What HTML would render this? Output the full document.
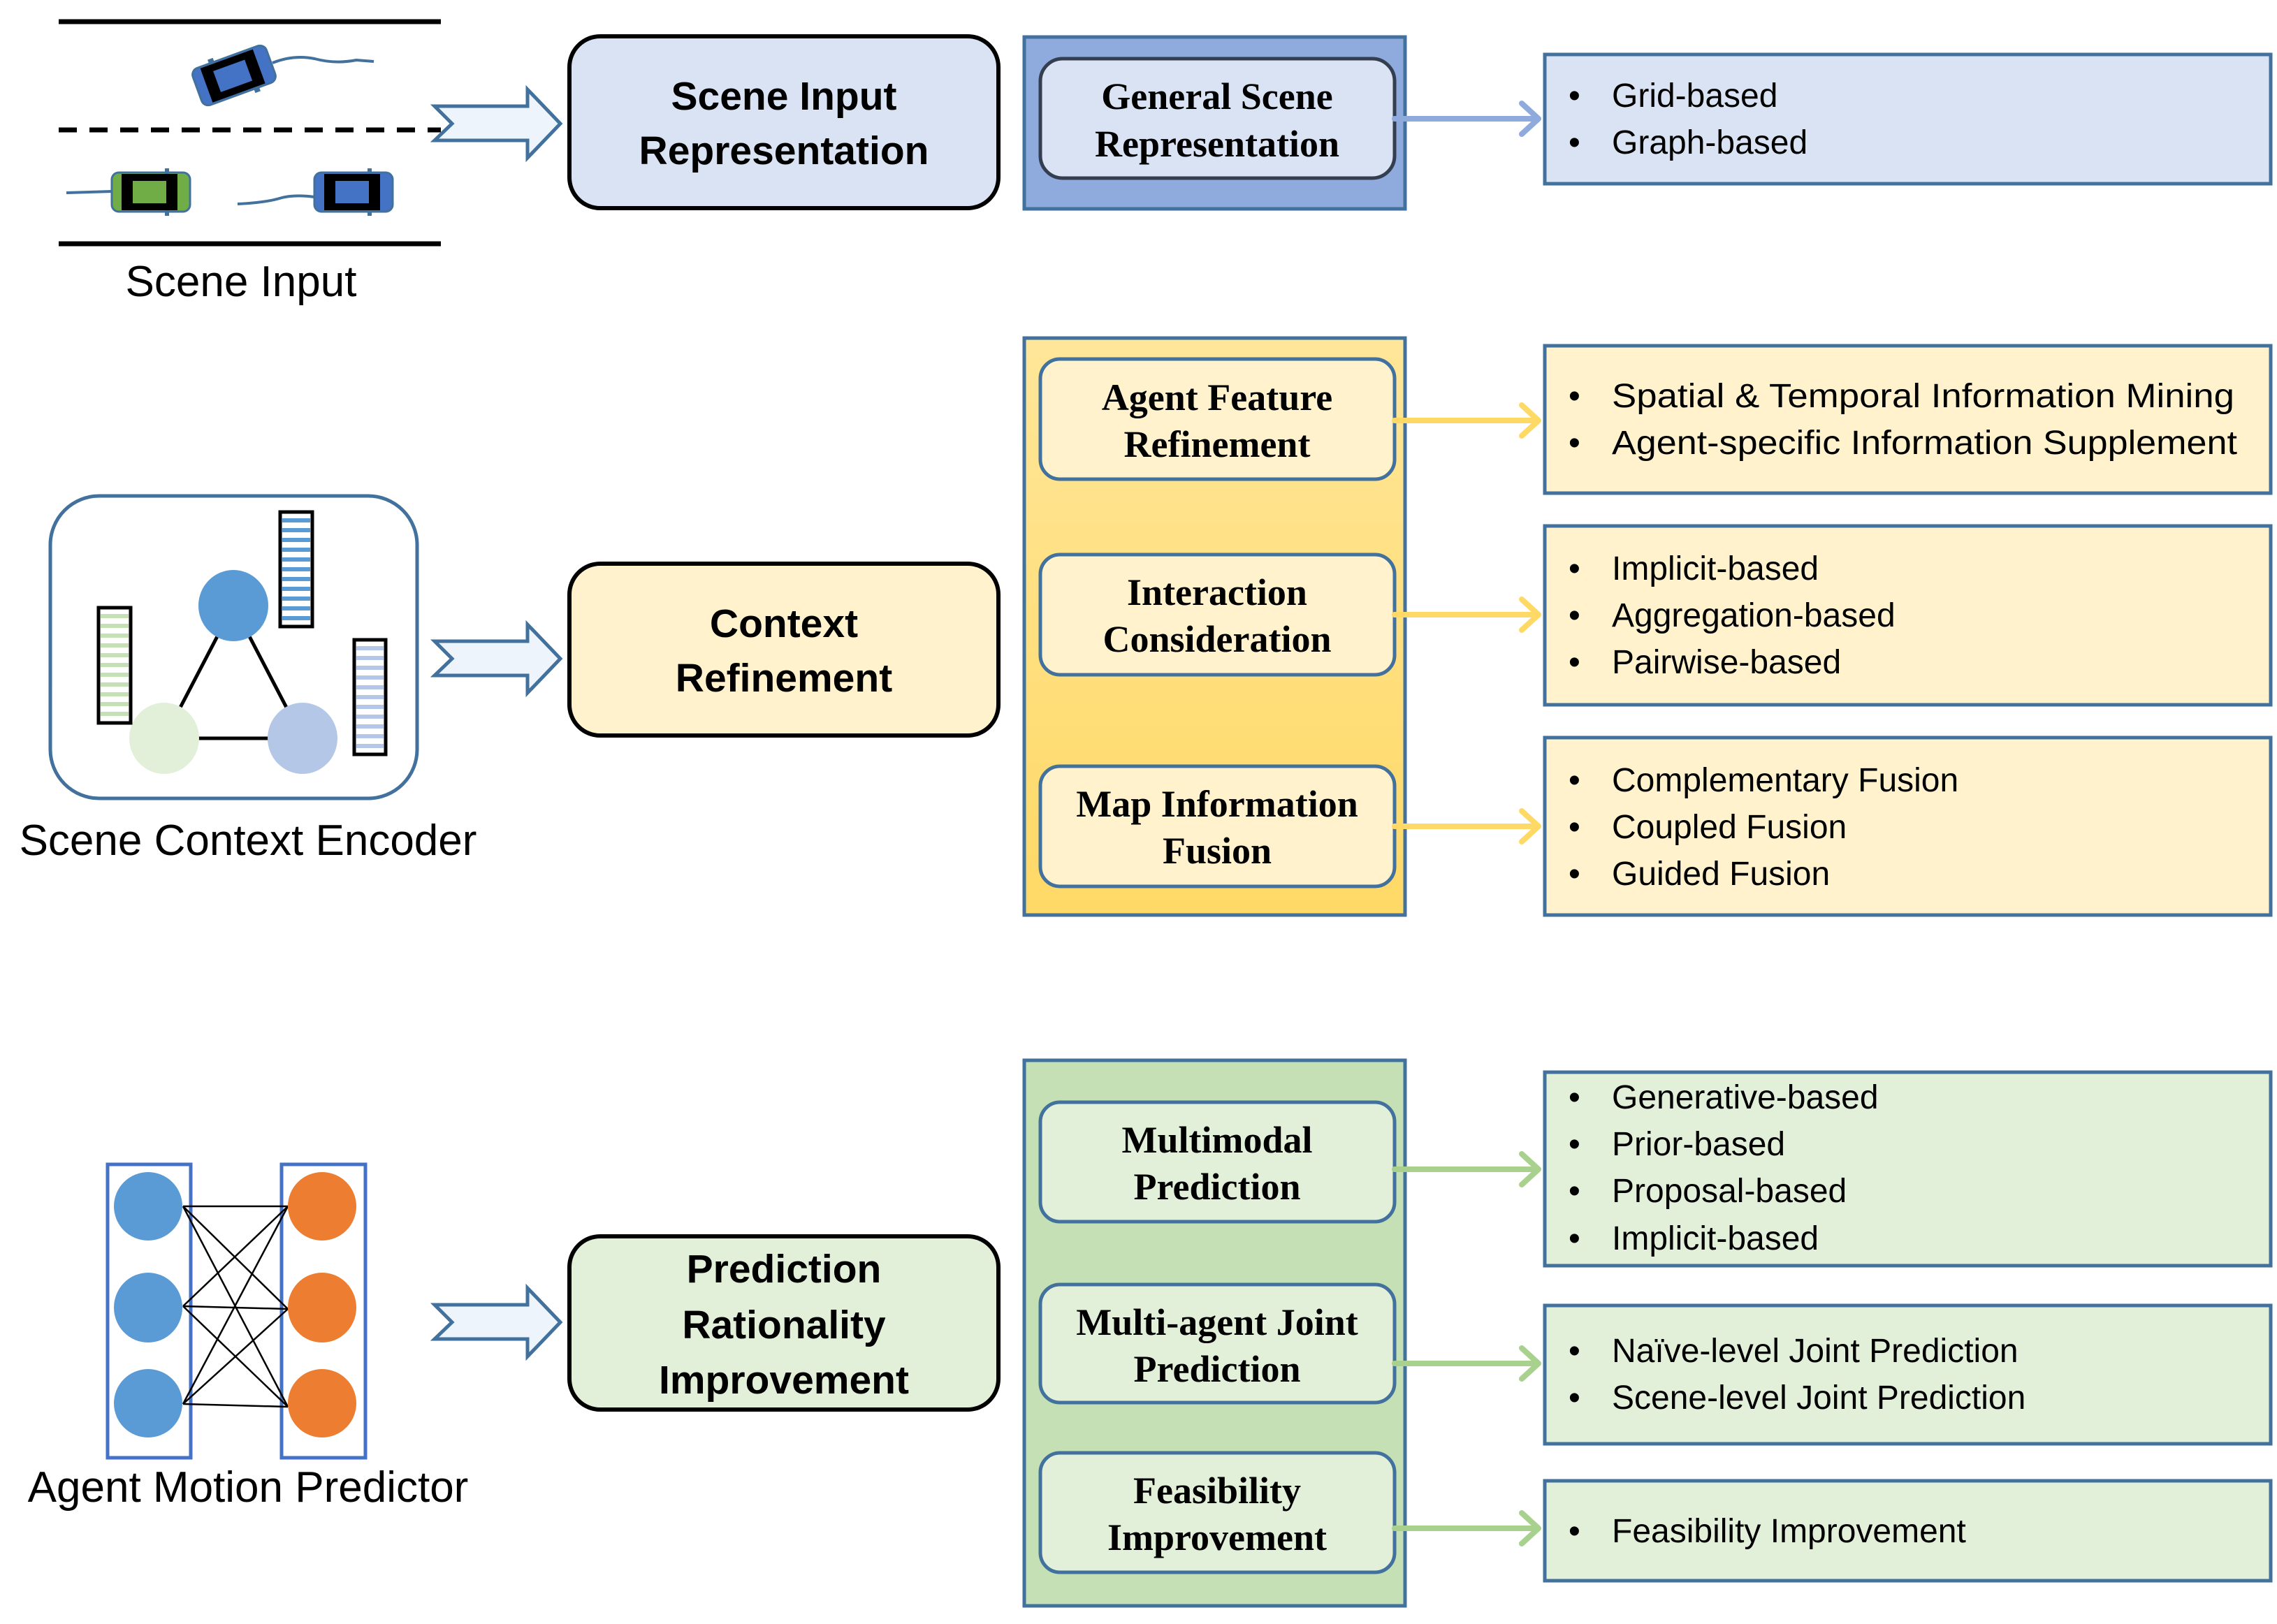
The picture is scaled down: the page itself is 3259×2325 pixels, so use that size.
<!DOCTYPE html>
<html><head><meta charset="utf-8"><style>
html,body{margin:0;padding:0;background:#fff}
svg{display:block}
.sans{font-family:"Liberation Sans",sans-serif}
.serif{font-family:"Liberation Serif",serif;font-weight:bold}
</style></head><body>
<svg width="3259" height="2325" viewBox="0 0 3259 2325" xmlns="http://www.w3.org/2000/svg">
<defs>
<linearGradient id="yg" x1="0" y1="0" x2="0" y2="1"><stop offset="0" stop-color="#ffe699"/><stop offset="1" stop-color="#ffd966"/></linearGradient>
</defs>
<line x1="84" y1="31" x2="631" y2="31" stroke="#000" stroke-width="7"/>
<line x1="84" y1="186" x2="631" y2="186" stroke="#000" stroke-width="7" stroke-dasharray="26,18"/>
<line x1="84" y1="349" x2="631" y2="349" stroke="#000" stroke-width="7"/>
<path d="M390 90 Q420 78 450 84 Q480 92 510 86 L535 88" stroke="#41719c" stroke-width="4" fill="none"/>
<path d="M95 276 L160 274" stroke="#41719c" stroke-width="4" fill="none"/>
<path d="M340 292 Q380 290 400 284 Q420 278 450 282" stroke="#41719c" stroke-width="4" fill="none"/>
<g transform="translate(335,108) rotate(-20)">
<rect x="-56" y="-28" width="112" height="56" rx="10" fill="#4472c4" stroke="#41719c" stroke-width="3"/>
<rect x="-42" y="-26" width="80" height="52" fill="#000"/><rect x="-26" y="-16" width="48" height="32" fill="#4472c4"/>
<rect x="-28" y="-34" width="8" height="8" fill="#41719c"/><rect x="20" y="26" width="8" height="8" fill="#41719c"/></g>
<g transform="translate(216,275)">
<rect x="-56" y="-28" width="112" height="56" rx="10" fill="#70ad47" stroke="#41719c" stroke-width="3"/>
<rect x="-42" y="-26" width="80" height="52" fill="#000"/><rect x="-26" y="-16" width="48" height="32" fill="#70ad47"/>
<rect x="20" y="-34" width="6" height="8" fill="#41719c"/><rect x="20" y="26" width="6" height="8" fill="#41719c"/></g>
<g transform="translate(506,275)">
<rect x="-56" y="-28" width="112" height="56" rx="10" fill="#4472c4" stroke="#41719c" stroke-width="3"/>
<rect x="-42" y="-26" width="80" height="52" fill="#000"/><rect x="-26" y="-16" width="48" height="32" fill="#4472c4"/>
<rect x="20" y="-34" width="6" height="8" fill="#41719c"/><rect x="20" y="26" width="6" height="8" fill="#41719c"/></g>
<text x="345" y="424" font-size="62" text-anchor="middle" class="sans">Scene Input</text>

<g fill="#eef4fb" stroke="#41719c" stroke-width="5">
<path d="M622 152 L755 152 L755 128 L802 177 L755 226 L755 201 L622 201 L647 177 Z"/>
<path d="M622 918 L755 918 L755 894 L802 943 L755 992 L755 967 L622 967 L647 943 Z"/>
<path d="M622 1868 L755 1868 L755 1844 L802 1893 L755 1942 L755 1917 L622 1917 L647 1893 Z"/>
</g>

<rect x="815" y="52" width="614" height="246" rx="44" fill="#dae3f3" stroke="#000" stroke-width="6"/>
<text x="1122" y="157" font-size="57" font-weight="bold" text-anchor="middle" class="sans">Scene Input</text>
<text x="1122" y="235" font-size="57" font-weight="bold" text-anchor="middle" class="sans">Representation</text>
<rect x="815" y="807" width="614" height="246" rx="44" fill="#fff2cc" stroke="#000" stroke-width="6"/>
<text x="1122" y="912" font-size="57" font-weight="bold" text-anchor="middle" class="sans">Context</text>
<text x="1122" y="990" font-size="57" font-weight="bold" text-anchor="middle" class="sans">Refinement</text>
<rect x="815" y="1770" width="614" height="248" rx="44" fill="#e2f0d9" stroke="#000" stroke-width="6"/>
<text x="1122" y="1836" font-size="57" font-weight="bold" text-anchor="middle" class="sans">Prediction</text>
<text x="1122" y="1916" font-size="57" font-weight="bold" text-anchor="middle" class="sans">Rationality</text>
<text x="1122" y="1995" font-size="57" font-weight="bold" text-anchor="middle" class="sans">Improvement</text>

<rect x="72" y="710" width="525" height="433" rx="70" fill="#fff" stroke="#41719c" stroke-width="5"/>
<line x1="334" y1="867" x2="235" y2="1057" stroke="#000" stroke-width="5"/>
<line x1="334" y1="867" x2="433" y2="1057" stroke="#000" stroke-width="5"/>
<line x1="235" y1="1057" x2="433" y2="1057" stroke="#000" stroke-width="5"/>
<ellipse cx="334" cy="867" rx="50" ry="51" fill="#5b9bd5"/>
<ellipse cx="235" cy="1057" rx="50" ry="51" fill="#e2f0d9"/>
<ellipse cx="433" cy="1057" rx="50" ry="51" fill="#b4c7e7"/>
<g stroke="#000" stroke-width="5">
<rect x="141" y="870" width="46" height="165" fill="#fff"/>
<rect x="401" y="733" width="46" height="164" fill="#fff"/>
<rect x="507" y="916" width="45" height="164" fill="#fff"/>
</g>
<g stroke-width="6">
<path d="M144 882H184M144 896H184M144 910H184M144 924H184M144 938H184M144 952H184M144 966H184M144 980H184M144 994H184M144 1008H184M144 1022H184" stroke="#c5e0b4"/>
<path d="M404 745H444M404 759H444M404 773H444M404 787H444M404 801H444M404 815H444M404 829H444M404 843H444M404 857H444M404 871H444M404 885H444" stroke="#5b9bd5"/>
<path d="M510 928H549M510 942H549M510 956H549M510 970H549M510 984H549M510 998H549M510 1012H549M510 1026H549M510 1040H549M510 1054H549M510 1068H549" stroke="#b4c7e7"/>
</g>
<text x="355" y="1224" font-size="62" text-anchor="middle" class="sans">Scene Context Encoder</text>

<rect x="154" y="1667" width="119" height="420" fill="#fff" stroke="#4472c4" stroke-width="5"/>
<rect x="403" y="1667" width="120" height="420" fill="#fff" stroke="#4472c4" stroke-width="5"/>
<g stroke="#000" stroke-width="2.5">
<line x1="262" y1="1727" x2="412" y2="1727"/><line x1="262" y1="1727" x2="412" y2="1874"/><line x1="262" y1="1727" x2="412" y2="2014"/>
<line x1="262" y1="1870" x2="412" y2="1727"/><line x1="262" y1="1870" x2="412" y2="1874"/><line x1="262" y1="1870" x2="412" y2="2014"/>
<line x1="262" y1="2010" x2="412" y2="1727"/><line x1="262" y1="2010" x2="412" y2="1874"/><line x1="262" y1="2010" x2="412" y2="2014"/>
</g>
<ellipse cx="212" cy="1727" rx="49" ry="49" fill="#5b9bd5"/>
<ellipse cx="212" cy="1872" rx="49" ry="50" fill="#5b9bd5"/>
<ellipse cx="212" cy="2009" rx="49" ry="49" fill="#5b9bd5"/>
<ellipse cx="461" cy="1727" rx="49" ry="49" fill="#ed7d31"/>
<ellipse cx="461" cy="1872" rx="49" ry="50" fill="#ed7d31"/>
<ellipse cx="461" cy="2009" rx="49" ry="49" fill="#ed7d31"/>
<text x="355" y="2150" font-size="62" text-anchor="middle" class="sans">Agent Motion Predictor</text>

<rect x="1466" y="53" width="545" height="246" fill="#8faadc" stroke="#41719c" stroke-width="5"/>
<rect x="1466" y="484" width="545" height="826" fill="url(#yg)" stroke="#41719c" stroke-width="5"/>
<rect x="1466" y="1518" width="545" height="781" fill="#c5e0b4" stroke="#41719c" stroke-width="5"/>

<rect x="1489" y="84" width="507" height="171" rx="32" fill="#dae3f3" stroke="#333f50" stroke-width="5"/>
<text x="1742" y="156" font-size="54" text-anchor="middle" class="serif">General Scene</text>
<text x="1742" y="224" font-size="54" text-anchor="middle" class="serif">Representation</text>

<g fill="#fff2cc" stroke="#41719c" stroke-width="5">
<rect x="1489" y="514" width="507" height="172" rx="28"/>
<rect x="1489" y="794" width="507" height="172" rx="28"/>
<rect x="1489" y="1097" width="507" height="172" rx="28"/>
</g>
<g font-size="54" text-anchor="middle" class="serif">
<text x="1742" y="587">Agent Feature</text><text x="1742" y="654">Refinement</text>
<text x="1742" y="866">Interaction</text><text x="1742" y="933">Consideration</text>
<text x="1742" y="1169">Map Information</text><text x="1742" y="1236">Fusion</text>
</g>
<g fill="#e2f0d9" stroke="#41719c" stroke-width="5">
<rect x="1489" y="1578" width="507" height="171" rx="28"/>
<rect x="1489" y="1839" width="507" height="169" rx="28"/>
<rect x="1489" y="2080" width="507" height="171" rx="28"/>
</g>
<g font-size="54" text-anchor="middle" class="serif">
<text x="1742" y="1650">Multimodal</text><text x="1742" y="1717">Prediction</text>
<text x="1742" y="1911">Multi-agent Joint</text><text x="1742" y="1978">Prediction</text>
<text x="1742" y="2152">Feasibility</text><text x="1742" y="2219">Improvement</text>
</g>

<g fill="none" stroke-width="8" stroke-linecap="round" stroke-linejoin="round">
<g stroke="#8faadc"><line x1="1996" y1="170" x2="2200" y2="170"/><path d="M2178 148 L2202 170 L2178 192"/></g>
<g stroke="#ffd966">
<line x1="1996" y1="602" x2="2200" y2="602"/><path d="M2178 580 L2202 602 L2178 624"/>
<line x1="1996" y1="880" x2="2200" y2="880"/><path d="M2178 858 L2202 880 L2178 902"/>
<line x1="1996" y1="1183" x2="2200" y2="1183"/><path d="M2178 1161 L2202 1183 L2178 1205"/>
</g>
<g stroke="#a9d18e">
<line x1="1996" y1="1674" x2="2200" y2="1674"/><path d="M2178 1652 L2202 1674 L2178 1696"/>
<line x1="1996" y1="1952" x2="2200" y2="1952"/><path d="M2178 1930 L2202 1952 L2178 1974"/>
<line x1="1996" y1="2188" x2="2200" y2="2188"/><path d="M2178 2166 L2202 2188 L2178 2210"/>
</g>
</g>

<rect x="2211" y="78" width="1039" height="185" fill="#dae3f3" stroke="#41719c" stroke-width="5"/>
<g fill="#fff2cc" stroke="#41719c" stroke-width="5">
<rect x="2211" y="495" width="1039" height="211"/>
<rect x="2211" y="753" width="1039" height="256"/>
<rect x="2211" y="1056" width="1039" height="254"/>
</g>
<g fill="#e2f0d9" stroke="#41719c" stroke-width="5">
<rect x="2211" y="1535" width="1039" height="277"/>
<rect x="2211" y="1869" width="1039" height="198"/>
<rect x="2211" y="2120" width="1039" height="143"/>
</g>
<g font-size="48" class="sans">
<text x="2245" y="153">•</text><text x="2307" y="153">Grid-based</text>
<text x="2245" y="220">•</text><text x="2307" y="220">Graph-based</text>
<text x="2245" y="583">•</text><text x="2307" y="583" textLength="891" lengthAdjust="spacingAndGlyphs">Spatial &amp; Temporal Information Mining</text>
<text x="2245" y="650">•</text><text x="2307" y="650" textLength="895" lengthAdjust="spacingAndGlyphs">Agent-specific Information Supplement</text>
<text x="2245" y="830">•</text><text x="2307" y="830">Implicit-based</text>
<text x="2245" y="897">•</text><text x="2307" y="897">Aggregation-based</text>
<text x="2245" y="964">•</text><text x="2307" y="964">Pairwise-based</text>
<text x="2245" y="1133">•</text><text x="2307" y="1133">Complementary Fusion</text>
<text x="2245" y="1200">•</text><text x="2307" y="1200">Coupled Fusion</text>
<text x="2245" y="1267">•</text><text x="2307" y="1267">Guided Fusion</text>
<text x="2245" y="1587">•</text><text x="2307" y="1587">Generative-based</text>
<text x="2245" y="1654">•</text><text x="2307" y="1654">Prior-based</text>
<text x="2245" y="1721">•</text><text x="2307" y="1721">Proposal-based</text>
<text x="2245" y="1789">•</text><text x="2307" y="1789">Implicit-based</text>
<text x="2245" y="1950">•</text><text x="2307" y="1950">Naïve-level Joint Prediction</text>
<text x="2245" y="2017">•</text><text x="2307" y="2017">Scene-level Joint Prediction</text>
<text x="2245" y="2208">•</text><text x="2307" y="2208">Feasibility Improvement</text>
</g>
</svg>
</body></html>
